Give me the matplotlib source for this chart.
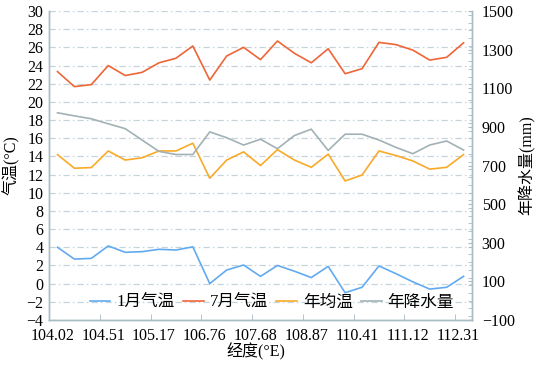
import numpy as np
import matplotlib
matplotlib.use("Agg")
import matplotlib.pyplot as plt
from matplotlib.ticker import MultipleLocator

plt.rcParams['font.family'] = ['Liberation Serif', 'Noto Sans CJK SC']

# data (25 sites, west to east)
lon_labels = ['104.02', '104.51', '105.17', '106.76', '107.68',
              '108.87', '110.41', '111.12', '112.31']
jan_temp = [4.0, 2.7, 2.78, 4.15, 3.45, 3.52, 3.78, 3.7, 4.05, 0.0, 1.5, 2.05,
            0.8, 2.0, 1.37, 0.67, 1.9, -1.0, -0.4, 1.95, 1.1, 0.2, -0.6, -0.4, 0.8]
jul_temp = [23.33, 21.68, 21.9, 24.0, 22.9, 23.25, 24.3, 24.8, 26.15, 22.4, 25.05, 26.0,
            24.65, 26.7, 25.35, 24.3, 25.85, 23.1, 23.65, 26.55, 26.3, 25.7, 24.6, 24.9, 26.5]
mean_temp = [14.2, 12.7, 12.77, 14.6, 13.6, 13.85, 14.6, 14.6, 15.45, 11.6, 13.6, 14.5,
             13.0, 14.75, 13.6, 12.8, 14.25, 11.3, 11.95, 14.6, 14.1, 13.5, 12.6, 12.8, 14.2]
precip = [973, 957, 942, 916, 891, 832, 773, 757, 757, 874, 844, 806,
          836, 787, 855, 888, 778, 862, 862, 832, 794, 761, 806, 827, 780]
names = ['1月气温', '7月气温', '年均温', '年降水量']
colors = ['#62aaf0', '#ee6638', '#f8aa28', '#a2b1b5']

x = np.arange(len(jan_temp))
axis_col = '#a8bcc4'
grid_col = '#c4d4da'

fig = plt.figure(figsize=(5.52, 3.72), dpi=100)
ax = fig.add_axes([0.0888, 0.1398, 0.7663, 0.8306])
ax2 = ax.twinx()

l1, = ax.plot(x, jan_temp, color=colors[0], lw=1.2)
l2, = ax.plot(x, jul_temp, color=colors[1], lw=1.2)
l3, = ax.plot(x, mean_temp, color=colors[2], lw=1.2)
l4, = ax2.plot(x, precip, color=colors[3], lw=1.2)

ax.set_xlim(-0.5, len(x) - 0.5)
ax.set_ylim(-4, 30)
ax.yaxis.set_major_locator(MultipleLocator(2))
ax2.set_ylim(-100, 1500)
ax2.set_yticks(np.arange(-100, 1501, 200))
ax2.yaxis.set_minor_locator(MultipleLocator(40))

# grid
ax.grid(axis='y', color=grid_col, lw=0.9, linestyle=(0, (5, 2.5, 1.2, 2.5)))
ax.set_axisbelow(True)

# category ticks: labels every 3rd site, tick marks on boundaries
ax.set_xticks(x[::3] - 0.3)
ax.set_xticklabels(lon_labels)
ax.set_xticks(np.arange(2.5, len(x) - 0.5, 3), minor=True)
ax.tick_params(axis='x', which='major', length=0, pad=6, labelsize=11.5)
ax.tick_params(axis='x', which='minor', direction='in', length=4, color=axis_col)
ax.tick_params(axis='y', length=0, pad=4, labelsize=11.5)
ax2.tick_params(axis='y', which='major', direction='in', length=3, color=axis_col,
                pad=7, labelsize=11.5)
ax2.tick_params(axis='y', which='minor', direction='in', length=3, color=axis_col)

for a in (ax, ax2):
    a.spines['top'].set_visible(False)
    for s in ('left', 'right', 'bottom'):
        a.spines[s].set_color(axis_col)
        a.spines[s].set_linewidth(1.0)

ax.set_xlabel('经度(°E)', fontsize=11.5)
ax.xaxis.set_label_coords(0.49, -0.075)
ax.set_ylabel('气温(°C)', fontsize=11.5)
ax.yaxis.set_label_coords(-0.068, 0.5)
ax2.set_ylabel('年降水量(mm)', fontsize=11.5)
ax2.yaxis.set_label_coords(1.109, 0.5)

leg = ax2.legend([l1, l2, l3, l4], names, loc='center', bbox_to_anchor=(0.527, 0.056),
                 ncol=4, frameon=False, fontsize=12, handlelength=1.25,
                 handletextpad=0.35, columnspacing=0.5, borderpad=0.1)

fig.savefig('out.png', dpi=100)
